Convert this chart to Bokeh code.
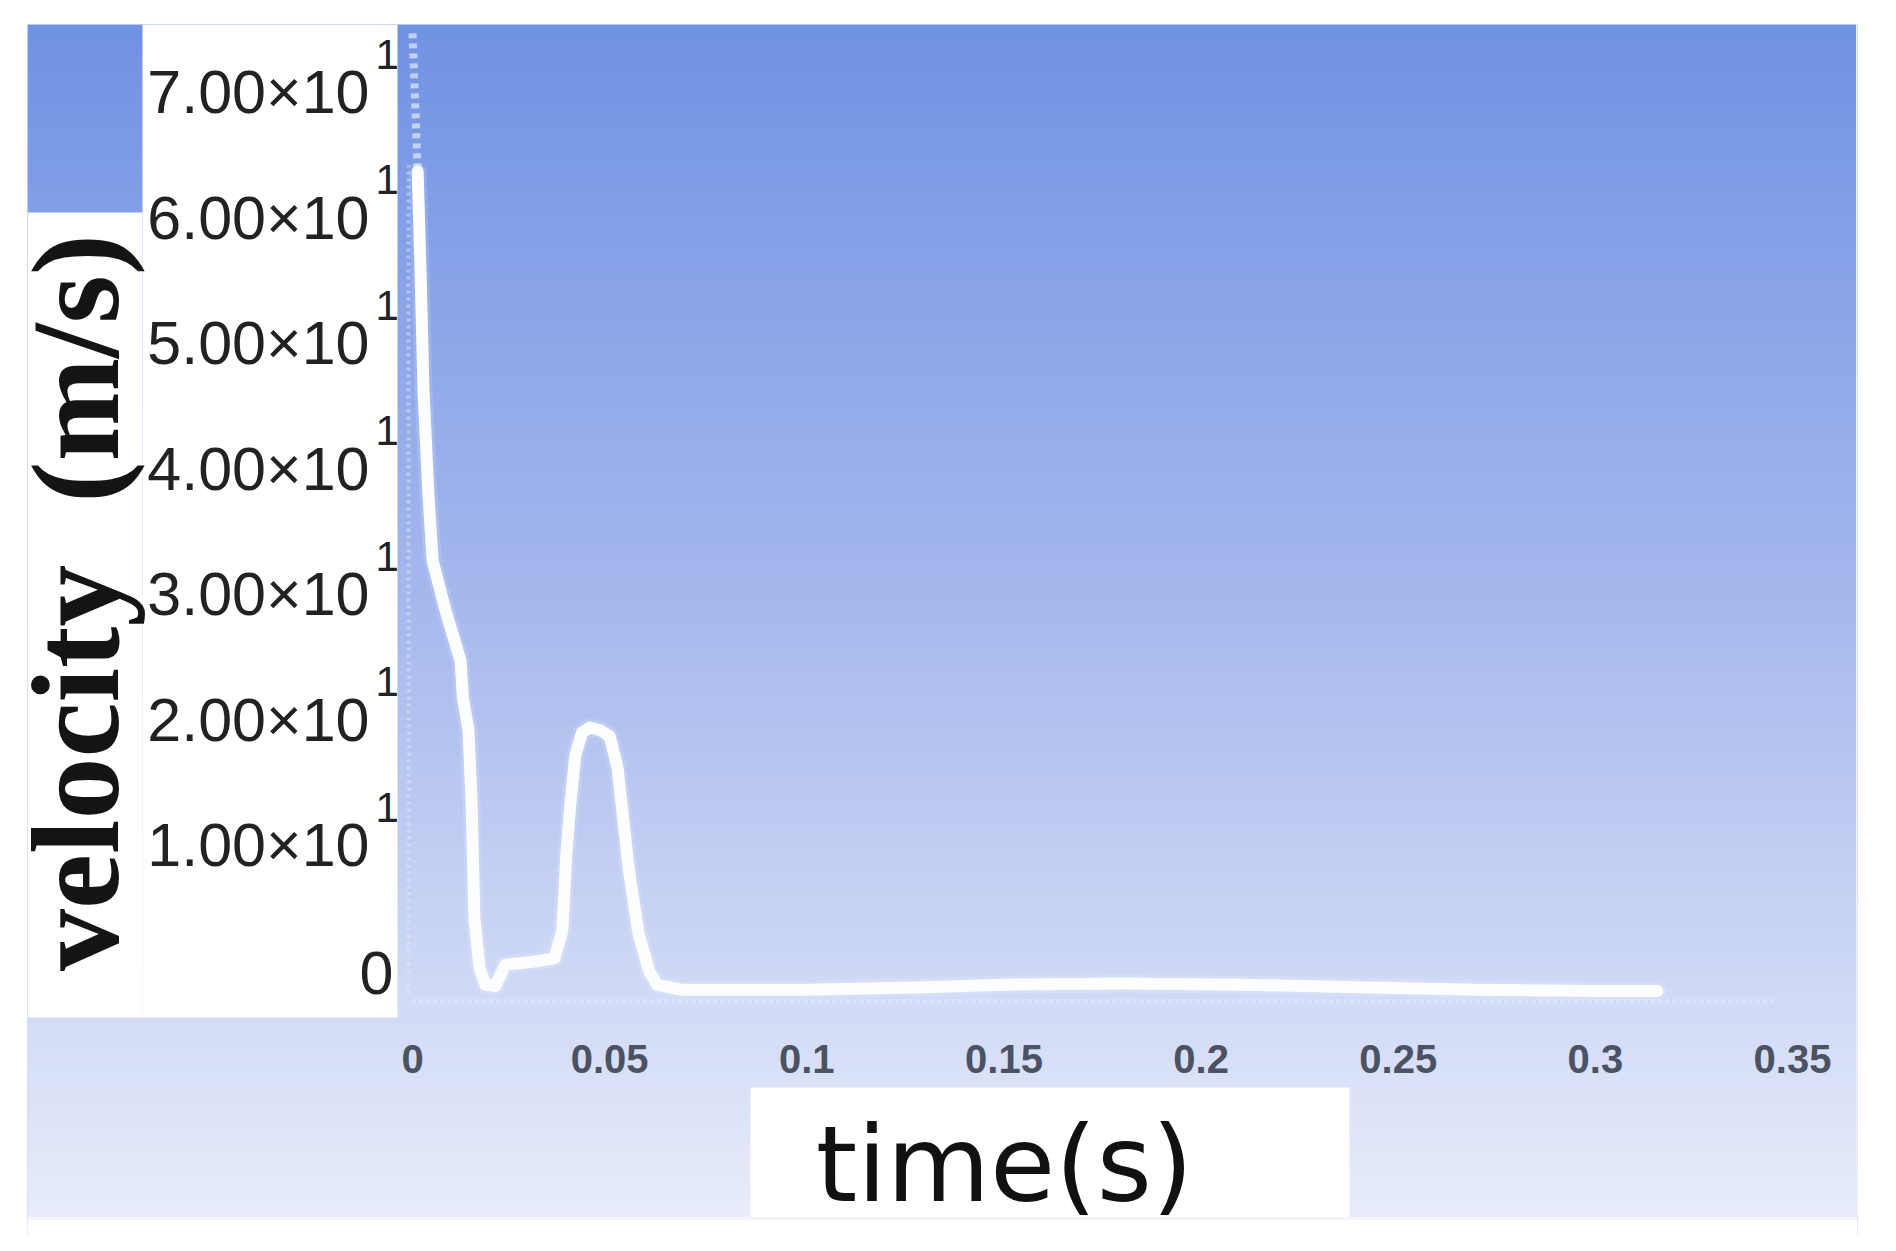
import numpy as np
from bokeh.plotting import figure
from bokeh.models import Range1d
from bokeh.core.properties import value
from bokeh.embed import file_html
from bokeh.resources import INLINE

# ---------------- data ----------------
time_s = [0.0, 0.0008, 0.0013, 0.0020, 0.0028, 0.0040, 0.0051, 0.0084, 0.0122,
          0.0128, 0.0142, 0.0150, 0.0157, 0.0170, 0.0185, 0.0210, 0.0236, 0.0300,
          0.0360, 0.0380, 0.0390, 0.0400, 0.0413, 0.0430, 0.0450, 0.0475, 0.0500,
          0.0520, 0.0548, 0.0573, 0.0600, 0.0620, 0.0680, 0.1000, 0.1300, 0.1500,
          0.1800, 0.2100, 0.2400, 0.2700, 0.3000, 0.3157]
velocity = [76.5, 70.0, 65.5, 58.0, 48.0, 40.0, 34.5, 30.5, 26.5,
            23.5, 21.0, 15.0, 6.0, 2.0, 0.7, 0.6, 2.3, 2.5,
            2.8, 5.0, 11.0, 15.0, 19.0, 20.8, 21.2, 21.0, 20.5,
            18.0, 10.0, 4.8, 1.8, 0.7, 0.3, 0.3, 0.5, 0.7,
            0.8, 0.7, 0.5, 0.3, 0.2, 0.2]

x_tick_values = [0.0, 0.05, 0.1, 0.15, 0.2, 0.25, 0.3, 0.35]
x_tick_labels = ["0", "0.05", "0.1", "0.15", "0.2", "0.25", "0.3", "0.35"]
y_tick_values = [10, 20, 30, 40, 50, 60, 70]
y_tick_mantissa = ["1.00", "2.00", "3.00", "4.00", "5.00", "6.00", "7.00"]
y_tick_exponent = "1"
x_title = "time(s)"
y_title = "velocity\u00a0 (m/s)"

# ---------------- layout (page pixels) ----------------
W, H = 1880, 1235
FL, FR, FT, FB = 27, 1857, 24, 1218      # blue region edges on page
X0PX, XSCALE = 412.0, 3943.0             # page x of t=0, px per second
Y0PX, YSCALE = 993.0, 12.55              # page y of v=0, px per m/s

def px2t(px):
    return (px - X0PX) / XSCALE

def px2v(py):
    return (Y0PX - py) / YSCALE

x0, x1 = px2t(FL), px2t(FR)
y0, y1 = px2v(H), px2v(FT)

p = figure(width=W, height=H, output_backend="svg", toolbar_location=None,
           x_range=Range1d(x0, x1), y_range=Range1d(y0, y1),
           x_axis_type=None, y_axis_type=None,
           min_border_left=FL, min_border_right=W - FR,
           min_border_top=FT, min_border_bottom=0)
p.outline_line_color = None
p.border_fill_color = "white"
p.background_fill_color = "#a8bcee"

# vertical gradient background (blue region only)
gy0 = px2v(FB)
N = 256
frac = np.linspace(0.0, 1.0, N)  # 0 = bottom, 1 = top
stops_f = [0.0, 0.5, 1.0]
stops_c = np.array([[233, 237, 251], [168, 186, 238], [113, 147, 228]], dtype=float)
rgb = np.stack([np.interp(frac, stops_f, stops_c[:, k]) for k in range(3)], axis=1)
img = np.empty((N, 2), dtype=np.uint32)
view = img.view(dtype=np.uint8).reshape((N, 2, 4))
for k in range(3):
    view[:, :, k] = rgb[:, k][:, None].astype(np.uint8)
view[:, :, 3] = 255
p.image_rgba(image=[img], x=x0, y=gy0, dw=x1 - x0, dh=y1 - gy0, level="image")

# white patches (tick panel, y title panel, x title panel, strip below region)
panels_px = [(142, 397, 24, 1017), (27, 142, 212, 1017), (750, 1349, 1087, 1240),
             (0, 1900, FB + 1, 1240)]
p.quad(left=[px2t(a) for a, b, c, d in panels_px],
       right=[px2t(b) for a, b, c, d in panels_px],
       top=[px2v(c) for a, b, c, d in panels_px],
       bottom=[px2v(d) for a, b, c, d in panels_px],
       fill_color="white", line_color=None)
# thin light edge of the blue region
p.line(x=[px2t(FR), px2t(FR)], y=[px2v(FT), px2v(FB)], line_color="#eef2fb", line_width=3)
p.line(x=[px2t(FL), px2t(FR)], y=[px2v(FB), px2v(FB)], line_color="#f3f5fc", line_width=3)

# faint original plot axes (left of the curve and under the flat part)
p.line(x=[-0.001, -0.001], y=[0.0, 66.0], line_color="#e4ecfc", line_width=4,
       line_alpha=0.45, line_dash="3 4")
p.line(x=[0.0, 0.345], y=[-0.6, -0.6], line_color="#eef3fd", line_width=4,
       line_alpha=0.45, line_dash="3 4")

# curve
p.line(time_s[:3], velocity[:3], line_color="white", line_width=8,
       line_alpha=0.55, line_dash="5 5")
p.line(time_s[2:], velocity[2:], line_color="white", line_width=18,
       line_alpha=0.15, line_join="round", line_cap="round")
p.line(time_s[2:], velocity[2:], line_color="#fbfdff", line_width=12,
       line_join="round", line_cap="round")

# y tick labels
p.text(x=[0.0] * len(y_tick_values), y=y_tick_values,
       text=[m + "×10" for m in y_tick_mantissa],
       text_font=value("Liberation Sans"), text_font_size="61px",
       text_align="right", text_baseline="middle", x_offset=-43, y_offset=-23,
       text_color="#222222")
p.text(x=[0.0] * len(y_tick_values), y=y_tick_values,
       text=[y_tick_exponent] * len(y_tick_values),
       text_font=value("Liberation Sans"), text_font_size="42px",
       text_align="left", text_baseline="middle", x_offset=-37, y_offset=-61,
       text_color="#222222")
p.text(x=[0.0], y=[0.0], text=["0"],
       text_font=value("Liberation Sans"), text_font_size="61px",
       text_align="right", text_baseline="middle", x_offset=-19, y_offset=-21,
       text_color="#222222")

# x tick labels
p.text(x=x_tick_values, y=[0.0] * len(x_tick_values), text=x_tick_labels,
       text_font=value("Liberation Sans"), text_font_size="40px",
       text_font_style="bold", text_align="center", text_baseline="middle",
       y_offset=65, text_color="#4a5264")

# axis titles
p.text(x=[0.0], y=[0.0], text=[x_title],
       text_font=value("DejaVu Sans"), text_font_size="106px",
       text_align="center", text_baseline="middle",
       x_offset=592, y_offset=171, text_color="#111111")
p.text(x=[0.0], y=[0.0], text=[y_title], angle=np.pi / 2,
       text_font=value("Liberation Serif"), text_font_size="124px",
       text_font_style="bold", text_align="center", text_baseline="middle",
       x_offset=-336, y_offset=-391, text_color="#141414")

open("out.html", "w").write(file_html(p, INLINE))
